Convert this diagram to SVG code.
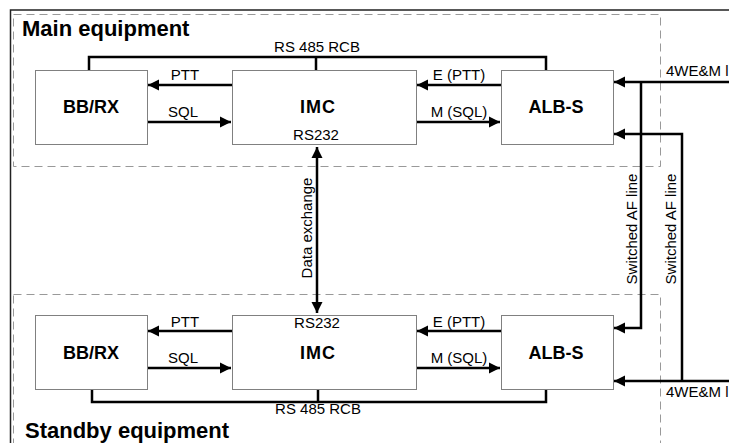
<svg xmlns="http://www.w3.org/2000/svg" width="729" height="443" viewBox="0 0 729 443">
<style>
text{font-family:"Liberation Sans",Arial,sans-serif;fill:#000}
.t{font-size:15px}
.b{font-size:18px;font-weight:bold}
.h{font-size:22px;font-weight:bold}
.box{fill:#fff;stroke:#808080;stroke-width:1}
.grp{fill:none;stroke:#999;stroke-width:1;stroke-dasharray:8 5}
.c{fill:none;stroke:#000;stroke-width:2.5}
.a{marker-end:url(#ar)}
</style>
<defs>
<marker id="ar" markerUnits="userSpaceOnUse" markerWidth="12" markerHeight="12" refX="11" refY="6" orient="auto-start-reverse">
<path d="M0,0.5 L11,6 L0,11.5 z" fill="#000"/>
</marker>
</defs>
<rect width="729" height="443" fill="#fff"/>
<path d="M10.5,443 V10 H729" fill="none" stroke="#222" stroke-width="1.5"/>
<g id="main-group">
<rect class="grp" x="13.5" y="14.5" width="647" height="152"/>
<text class="h" x="22" y="36">Main equipment</text>
</g>
<g id="standby-group">
<rect class="grp" x="13.5" y="294.5" width="647" height="170"/>
<text class="h" x="25" y="438">Standby equipment</text>
</g>
<g id="connectors">
<path class="c" d="M89,70 V57 H546 V70 M316,57 V70"/>
<path class="c a" d="M232,85 H148"/>
<path class="c a" d="M147,122 H231"/>
<path class="c a" d="M501,85 H417"/>
<path class="c a" d="M416,122 H500"/>
<path class="c" d="M317,147 V313" marker-start="url(#ar)" marker-end="url(#ar)"/>
<path class="c a" d="M729,82 H614"/>
<path class="c a" d="M641,82 V328 H614"/>
<path class="c a" d="M682,381 V134 H614"/>
<path class="c a" d="M729,381 H614"/>
<path class="c" d="M92,389 V402 H546 V389 M318,389 V402"/>
<path class="c a" d="M232,331 H148"/>
<path class="c a" d="M147,368 H231"/>
<path class="c a" d="M501,331 H417"/>
<path class="c a" d="M416,368 H500"/>
</g>
<g id="connector-labels">
<text class="t" x="317" y="52" text-anchor="middle">RS 485 RCB</text>
<text class="t" x="185" y="80" text-anchor="middle">PTT</text>
<text class="t" x="183" y="117" text-anchor="middle">SQL</text>
<text class="t" x="459" y="80" text-anchor="middle">E (PTT)</text>
<text class="t" x="459" y="117" text-anchor="middle">M (SQL)</text>
<text class="t" x="666" y="76">4WE&amp;M l</text>
<text class="t" transform="translate(312,228) rotate(-90)" text-anchor="middle">Data exchange</text>
<text class="t" transform="translate(637,229) rotate(-90)" text-anchor="middle">Switched AF line</text>
<text class="t" transform="translate(676,229) rotate(-90)" text-anchor="middle">Switched AF line</text>
<text class="t" x="185" y="327" text-anchor="middle">PTT</text>
<text class="t" x="183" y="363" text-anchor="middle">SQL</text>
<text class="t" x="459" y="327" text-anchor="middle">E (PTT)</text>
<text class="t" x="459" y="363" text-anchor="middle">M (SQL)</text>
<text class="t" x="318" y="414" text-anchor="middle">RS 485 RCB</text>
<text class="t" x="666" y="397">4WE&amp;M l</text>
</g>
<g id="main-bbrx">
<rect class="box" x="35.5" y="70.5" width="112" height="74"/>
<text class="b" x="91" y="113" text-anchor="middle">BB/RX</text>
</g>
<g id="main-imc">
<rect class="box" x="232.5" y="70.5" width="184" height="74"/>
<text class="b" x="318" y="113" text-anchor="middle" letter-spacing="1">IMC</text>
<text class="t" x="316" y="140" text-anchor="middle">RS232</text>
</g>
<g id="main-albs">
<rect class="box" x="501.5" y="70.5" width="112" height="74"/>
<text class="b" x="556" y="113" text-anchor="middle">ALB-S</text>
</g>
<g id="standby-bbrx">
<rect class="box" x="35.5" y="315.5" width="112" height="74"/>
<text class="b" x="91" y="359" text-anchor="middle">BB/RX</text>
</g>
<g id="standby-imc">
<rect class="box" x="232.5" y="315.5" width="184" height="74"/>
<text class="b" x="318" y="359" text-anchor="middle" letter-spacing="1">IMC</text>
<text class="t" x="317" y="328" text-anchor="middle">RS232</text>
</g>
<g id="standby-albs">
<rect class="box" x="501.5" y="315.5" width="112" height="74"/>
<text class="b" x="556" y="359" text-anchor="middle">ALB-S</text>
</g>
</svg>
